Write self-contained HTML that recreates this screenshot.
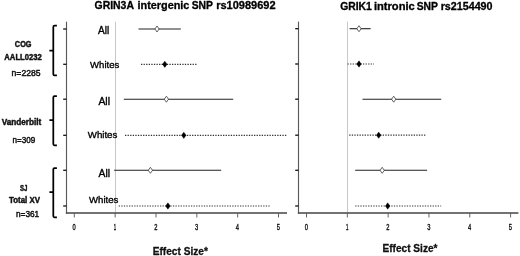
<!DOCTYPE html>
<html><head><meta charset="utf-8"><style>
html,body{margin:0;padding:0;background:#fff;}
svg{display:block;font-family:"Liberation Sans", sans-serif;will-change:transform;}
</style></head><body>
<svg width="520" height="256" viewBox="0 0 520 256">
<rect width="520" height="256" fill="#fff"/>
<line x1="115.5" y1="21.7" x2="115.5" y2="212.5" stroke="#c8c8c8" stroke-width="1" stroke-linecap="butt"/>
<line x1="66.5" y1="21.7" x2="66.5" y2="213.6" stroke="#5a5a5a" stroke-width="1.15" stroke-linecap="butt"/>
<line x1="65.9" y1="213" x2="287" y2="213" stroke="#444" stroke-width="1.6" stroke-linecap="butt"/>
<line x1="63.2" y1="29" x2="66.5" y2="29" stroke="#111" stroke-width="1.3" stroke-linecap="butt"/>
<line x1="63.2" y1="64.3" x2="66.5" y2="64.3" stroke="#111" stroke-width="1.3" stroke-linecap="butt"/>
<line x1="63.2" y1="99.2" x2="66.5" y2="99.2" stroke="#111" stroke-width="1.3" stroke-linecap="butt"/>
<line x1="63.2" y1="135.3" x2="66.5" y2="135.3" stroke="#111" stroke-width="1.3" stroke-linecap="butt"/>
<line x1="63.2" y1="170.3" x2="66.5" y2="170.3" stroke="#111" stroke-width="1.3" stroke-linecap="butt"/>
<line x1="63.2" y1="206" x2="66.5" y2="206" stroke="#111" stroke-width="1.3" stroke-linecap="butt"/>
<line x1="74.3" y1="213" x2="74.3" y2="217.5" stroke="#555" stroke-width="0.9" stroke-linecap="butt"/>
<text x="74.1" y="230" font-size="9" text-anchor="middle" fill="#111" textLength="3.2" lengthAdjust="spacingAndGlyphs" stroke="#111" stroke-width="0.4" stroke-linejoin="round">0</text>
<line x1="115.14" y1="213" x2="115.14" y2="217.5" stroke="#555" stroke-width="0.9" stroke-linecap="butt"/>
<text x="114.94" y="230" font-size="9" text-anchor="middle" fill="#111" textLength="2.4" lengthAdjust="spacingAndGlyphs" stroke="#111" stroke-width="0.4" stroke-linejoin="round">1</text>
<line x1="155.98" y1="213" x2="155.98" y2="217.5" stroke="#555" stroke-width="0.9" stroke-linecap="butt"/>
<text x="155.78" y="230" font-size="9" text-anchor="middle" fill="#111" textLength="3.2" lengthAdjust="spacingAndGlyphs" stroke="#111" stroke-width="0.4" stroke-linejoin="round">2</text>
<line x1="196.82" y1="213" x2="196.82" y2="217.5" stroke="#555" stroke-width="0.9" stroke-linecap="butt"/>
<text x="196.62" y="230" font-size="9" text-anchor="middle" fill="#111" textLength="3.2" lengthAdjust="spacingAndGlyphs" stroke="#111" stroke-width="0.4" stroke-linejoin="round">3</text>
<line x1="237.66" y1="213" x2="237.66" y2="217.5" stroke="#555" stroke-width="0.9" stroke-linecap="butt"/>
<text x="237.46" y="230" font-size="9" text-anchor="middle" fill="#111" textLength="3.2" lengthAdjust="spacingAndGlyphs" stroke="#111" stroke-width="0.4" stroke-linejoin="round">4</text>
<line x1="278.5" y1="213" x2="278.5" y2="217.5" stroke="#555" stroke-width="0.9" stroke-linecap="butt"/>
<text x="278.3" y="230" font-size="9" text-anchor="middle" fill="#111" textLength="3.2" lengthAdjust="spacingAndGlyphs" stroke="#111" stroke-width="0.4" stroke-linejoin="round">5</text>
<line x1="138.5" y1="29" x2="180.8" y2="29" stroke="#222" stroke-width="1.1" stroke-linecap="butt"/>
<polygon points="157,26 159.1,29 157,32 154.9,29" fill="#fff" stroke="#333" stroke-width="0.75"/>
<line x1="141" y1="64.3" x2="197" y2="64.3" stroke="#333" stroke-width="1.2" stroke-linecap="butt" stroke-dasharray="1.3 1.28"/>
<polygon points="164.8,61.15 167.1,64.3 164.8,67.45 162.5,64.3" fill="#000" stroke="#000" stroke-width="0.4"/>
<line x1="123.8" y1="99.2" x2="233.2" y2="99.2" stroke="#222" stroke-width="1.1" stroke-linecap="butt"/>
<polygon points="166.4,96.2 168.5,99.2 166.4,102.2 164.3,99.2" fill="#fff" stroke="#333" stroke-width="0.75"/>
<line x1="125" y1="135.3" x2="286.5" y2="135.3" stroke="#333" stroke-width="1.2" stroke-linecap="butt" stroke-dasharray="1.3 1.28"/>
<polygon points="183.8,132.15 186.1,135.3 183.8,138.45 181.5,135.3" fill="#000" stroke="#000" stroke-width="0.4"/>
<line x1="114.1" y1="170.3" x2="221.2" y2="170.3" stroke="#222" stroke-width="1.1" stroke-linecap="butt"/>
<polygon points="150.4,167.3 152.5,170.3 150.4,173.3 148.3,170.3" fill="#fff" stroke="#333" stroke-width="0.75"/>
<line x1="118.7" y1="206" x2="270.2" y2="206" stroke="#333" stroke-width="1.2" stroke-linecap="butt" stroke-dasharray="1.3 1.28"/>
<polygon points="167.9,202.85 170.2,206 167.9,209.15 165.6,206" fill="#000" stroke="#000" stroke-width="0.4"/>
<text x="152.64" y="254.8" font-size="10.4" font-weight="bold" text-anchor="start" fill="#111" textLength="55.26" lengthAdjust="spacingAndGlyphs" stroke="#111" stroke-width="0.3" stroke-linejoin="round">Effect Size*</text>
<line x1="347.5" y1="21.6" x2="347.5" y2="212.5" stroke="#c8c8c8" stroke-width="1" stroke-linecap="butt"/>
<line x1="298.5" y1="21.6" x2="298.5" y2="213.6" stroke="#5a5a5a" stroke-width="1.15" stroke-linecap="butt"/>
<line x1="297.9" y1="213" x2="518.4" y2="213" stroke="#444" stroke-width="1.6" stroke-linecap="butt"/>
<line x1="295.2" y1="28.7" x2="298.5" y2="28.7" stroke="#111" stroke-width="1.3" stroke-linecap="butt"/>
<line x1="295.2" y1="64" x2="298.5" y2="64" stroke="#111" stroke-width="1.3" stroke-linecap="butt"/>
<line x1="295.2" y1="99.2" x2="298.5" y2="99.2" stroke="#111" stroke-width="1.3" stroke-linecap="butt"/>
<line x1="295.2" y1="135.2" x2="298.5" y2="135.2" stroke="#111" stroke-width="1.3" stroke-linecap="butt"/>
<line x1="295.2" y1="170.3" x2="298.5" y2="170.3" stroke="#111" stroke-width="1.3" stroke-linecap="butt"/>
<line x1="295.2" y1="206" x2="298.5" y2="206" stroke="#111" stroke-width="1.3" stroke-linecap="butt"/>
<line x1="306.5" y1="213" x2="306.5" y2="217.5" stroke="#555" stroke-width="0.9" stroke-linecap="butt"/>
<text x="306.3" y="230" font-size="9" text-anchor="middle" fill="#111" textLength="3.2" lengthAdjust="spacingAndGlyphs" stroke="#111" stroke-width="0.4" stroke-linejoin="round">0</text>
<line x1="347.32" y1="213" x2="347.32" y2="217.5" stroke="#555" stroke-width="0.9" stroke-linecap="butt"/>
<text x="347.12" y="230" font-size="9" text-anchor="middle" fill="#111" textLength="2.4" lengthAdjust="spacingAndGlyphs" stroke="#111" stroke-width="0.4" stroke-linejoin="round">1</text>
<line x1="388.14" y1="213" x2="388.14" y2="217.5" stroke="#555" stroke-width="0.9" stroke-linecap="butt"/>
<text x="387.94" y="230" font-size="9" text-anchor="middle" fill="#111" textLength="3.2" lengthAdjust="spacingAndGlyphs" stroke="#111" stroke-width="0.4" stroke-linejoin="round">2</text>
<line x1="428.96" y1="213" x2="428.96" y2="217.5" stroke="#555" stroke-width="0.9" stroke-linecap="butt"/>
<text x="428.76" y="230" font-size="9" text-anchor="middle" fill="#111" textLength="3.2" lengthAdjust="spacingAndGlyphs" stroke="#111" stroke-width="0.4" stroke-linejoin="round">3</text>
<line x1="469.78" y1="213" x2="469.78" y2="217.5" stroke="#555" stroke-width="0.9" stroke-linecap="butt"/>
<text x="469.58" y="230" font-size="9" text-anchor="middle" fill="#111" textLength="3.2" lengthAdjust="spacingAndGlyphs" stroke="#111" stroke-width="0.4" stroke-linejoin="round">4</text>
<line x1="510.6" y1="213" x2="510.6" y2="217.5" stroke="#555" stroke-width="0.9" stroke-linecap="butt"/>
<text x="510.4" y="230" font-size="9" text-anchor="middle" fill="#111" textLength="3.2" lengthAdjust="spacingAndGlyphs" stroke="#111" stroke-width="0.4" stroke-linejoin="round">5</text>
<line x1="349.6" y1="28.7" x2="370.6" y2="28.7" stroke="#222" stroke-width="1.1" stroke-linecap="butt"/>
<polygon points="359,25.7 361.1,28.7 359,31.7 356.9,28.7" fill="#fff" stroke="#333" stroke-width="0.75"/>
<line x1="347.5" y1="64" x2="374" y2="64" stroke="#333" stroke-width="1.2" stroke-linecap="butt" stroke-dasharray="1.3 1.28"/>
<polygon points="359,60.85 361.3,64 359,67.15 356.7,64" fill="#000" stroke="#000" stroke-width="0.4"/>
<line x1="362.5" y1="99.2" x2="441.2" y2="99.2" stroke="#222" stroke-width="1.1" stroke-linecap="butt"/>
<polygon points="393.7,96.2 395.8,99.2 393.7,102.2 391.6,99.2" fill="#fff" stroke="#333" stroke-width="0.75"/>
<line x1="349.2" y1="135.2" x2="426" y2="135.2" stroke="#333" stroke-width="1.2" stroke-linecap="butt" stroke-dasharray="1.3 1.28"/>
<polygon points="378.7,132.05 381,135.2 378.7,138.35 376.4,135.2" fill="#000" stroke="#000" stroke-width="0.4"/>
<line x1="355.2" y1="170.3" x2="427.1" y2="170.3" stroke="#222" stroke-width="1.1" stroke-linecap="butt"/>
<polygon points="382.2,167.3 384.3,170.3 382.2,173.3 380.1,170.3" fill="#fff" stroke="#333" stroke-width="0.75"/>
<line x1="355.2" y1="206" x2="441.2" y2="206" stroke="#333" stroke-width="1.2" stroke-linecap="butt" stroke-dasharray="1.3 1.28"/>
<polygon points="387.7,202.85 390,206 387.7,209.15 385.4,206" fill="#000" stroke="#000" stroke-width="0.4"/>
<text x="382.43" y="252" font-size="10.4" font-weight="bold" text-anchor="start" fill="#111" textLength="55.1" lengthAdjust="spacingAndGlyphs" stroke="#111" stroke-width="0.3" stroke-linejoin="round">Effect Size*</text>
<text x="94.55" y="8.7" font-size="10.5" font-weight="bold" text-anchor="start" fill="#000" textLength="39.41" lengthAdjust="spacingAndGlyphs" stroke="#000" stroke-width="0.3" stroke-linejoin="round">GRIN3A</text>
<text x="137.49" y="8.7" font-size="10.5" font-weight="bold" text-anchor="start" fill="#000" textLength="51.94" lengthAdjust="spacingAndGlyphs" stroke="#000" stroke-width="0.3" stroke-linejoin="round">intergenic</text>
<text x="191.66" y="8.7" font-size="10.5" font-weight="bold" text-anchor="start" fill="#000" textLength="21.28" lengthAdjust="spacingAndGlyphs" stroke="#000" stroke-width="0.3" stroke-linejoin="round">SNP</text>
<text x="216.2" y="8.7" font-size="10.5" font-weight="bold" text-anchor="start" fill="#000" textLength="59.4" lengthAdjust="spacingAndGlyphs" stroke="#000" stroke-width="0.3" stroke-linejoin="round">rs10989692</text>
<text x="340.19" y="10" font-size="10.1" font-weight="bold" text-anchor="start" fill="#000" textLength="31.62" lengthAdjust="spacingAndGlyphs" stroke="#000" stroke-width="0.3" stroke-linejoin="round">GRIK1</text>
<text x="373.95" y="10" font-size="10.1" font-weight="bold" text-anchor="start" fill="#000" textLength="40.77" lengthAdjust="spacingAndGlyphs" stroke="#000" stroke-width="0.3" stroke-linejoin="round">intronic</text>
<text x="416.72" y="10" font-size="10.1" font-weight="bold" text-anchor="start" fill="#000" textLength="21.21" lengthAdjust="spacingAndGlyphs" stroke="#000" stroke-width="0.3" stroke-linejoin="round">SNP</text>
<text x="440.68" y="10" font-size="10.1" font-weight="bold" text-anchor="start" fill="#000" textLength="51.86" lengthAdjust="spacingAndGlyphs" stroke="#000" stroke-width="0.3" stroke-linejoin="round">rs2154490</text>
<text x="98.09" y="34" font-size="10.1" text-anchor="start" fill="#000" textLength="11.18" lengthAdjust="spacingAndGlyphs" stroke="#000" stroke-width="0.35" stroke-linejoin="round">All</text>
<text x="90.05" y="68" font-size="9.4" text-anchor="start" fill="#000" textLength="29.2" lengthAdjust="spacingAndGlyphs" stroke="#000" stroke-width="0.35" stroke-linejoin="round">Whites</text>
<text x="98.41" y="105" font-size="10.1" text-anchor="start" fill="#000" textLength="11.61" lengthAdjust="spacingAndGlyphs" stroke="#000" stroke-width="0.35" stroke-linejoin="round">All</text>
<text x="87.75" y="138" font-size="9.4" text-anchor="start" fill="#000" textLength="29.56" lengthAdjust="spacingAndGlyphs" stroke="#000" stroke-width="0.35" stroke-linejoin="round">Whites</text>
<text x="98.6" y="177" font-size="10.1" text-anchor="start" fill="#000" textLength="11.52" lengthAdjust="spacingAndGlyphs" stroke="#000" stroke-width="0.35" stroke-linejoin="round">All</text>
<text x="89.05" y="203" font-size="9.4" text-anchor="start" fill="#000" textLength="29.34" lengthAdjust="spacingAndGlyphs" stroke="#000" stroke-width="0.35" stroke-linejoin="round">Whites</text>
<text x="14.85" y="47" font-size="8.5" font-weight="bold" text-anchor="start" fill="#111" textLength="16.67" lengthAdjust="spacingAndGlyphs" stroke="#111" stroke-width="0.45" stroke-linejoin="round">COG</text>
<text x="4.33" y="60" font-size="8.5" font-weight="bold" text-anchor="start" fill="#111" textLength="37.52" lengthAdjust="spacingAndGlyphs" stroke="#111" stroke-width="0.45" stroke-linejoin="round">AALL0232</text>
<text x="11.6" y="76" font-size="8.6" text-anchor="start" fill="#111" textLength="28.89" lengthAdjust="spacingAndGlyphs" stroke="#111" stroke-width="0.45" stroke-linejoin="round">n=2285</text>
<text x="1.65" y="125" font-size="8.5" font-weight="bold" text-anchor="start" fill="#111" textLength="39.7" lengthAdjust="spacingAndGlyphs" stroke="#111" stroke-width="0.45" stroke-linejoin="round">Vanderbilt</text>
<text x="12.49" y="143" font-size="8.6" text-anchor="start" fill="#111" textLength="22.77" lengthAdjust="spacingAndGlyphs" stroke="#111" stroke-width="0.45" stroke-linejoin="round">n=309</text>
<text x="19.89" y="191" font-size="8.5" font-weight="bold" text-anchor="start" fill="#111" textLength="7.4" lengthAdjust="spacingAndGlyphs" stroke="#111" stroke-width="0.45" stroke-linejoin="round">SJ</text>
<text x="8.94" y="203" font-size="8.5" font-weight="bold" text-anchor="start" fill="#111" textLength="31.08" lengthAdjust="spacingAndGlyphs" stroke="#111" stroke-width="0.45" stroke-linejoin="round">Total XV</text>
<text x="16" y="217" font-size="8.6" text-anchor="start" fill="#111" textLength="23.22" lengthAdjust="spacingAndGlyphs" stroke="#111" stroke-width="0.45" stroke-linejoin="round">n=361</text>
<path d="M56.9,25.7 H54.5 Q53.3,25.7 53.3,26.9 V74.2 Q53.3,75.4 54.5,75.4 H56.9 M53.3,50.6 H49.4" fill="none" stroke="#000" stroke-width="1.75"/>
<path d="M56.9,96.2 H54.5 Q53.3,96.2 53.3,97.4 V144.1 Q53.3,145.3 54.5,145.3 H56.9 M53.3,120 H49.4" fill="none" stroke="#000" stroke-width="1.75"/>
<path d="M56.9,168 H54.5 Q53.3,168 53.3,169.2 V216.1 Q53.3,217.3 54.5,217.3 H56.9 M53.3,192.2 H49.4" fill="none" stroke="#000" stroke-width="1.75"/>
</svg>
</body></html>
